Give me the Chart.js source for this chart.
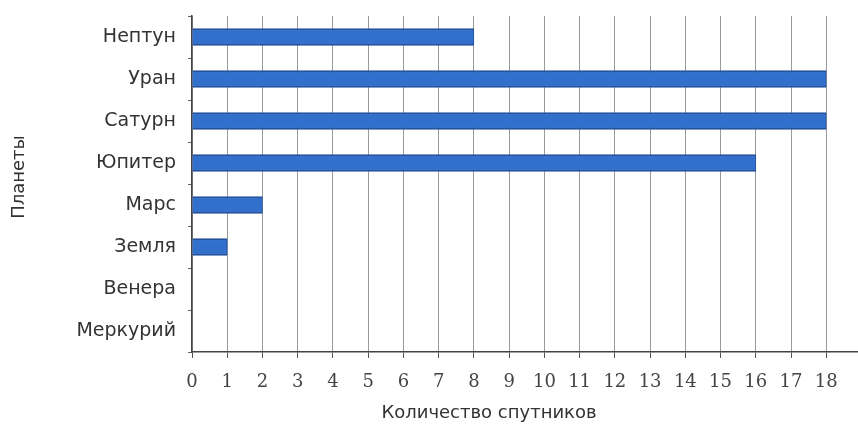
<!DOCTYPE html>
<html>
<head>
<meta charset="utf-8">
<script src="https://cdn.jsdelivr.net/npm/chart.js@4.4.1/dist/chart.umd.min.js"></script>
<style>
html,body{margin:0;padding:0;background:#fff;}
#wrap{width:858px;height:435px;position:relative;}
</style>
</head>
<body>
<div id="wrap"><canvas id="c" width="858" height="435"></canvas></div>
<script>
const planets = ["Нептун","Уран","Сатурн","Юпитер","Марс","Земля","Венера","Меркурий"];
const moons = [8,18,18,16,2,1,0,0];
const xTicks = [0,1,2,3,4,5,6,7,8,9,10,11,12,13,14,15,16,17,18];
const xTitle = "Количество спутников";
const yTitle = "Планеты";

const titlePlugin = {
  id: 'titles',
  afterDraw(chart) {
    const ctx = chart.ctx;
    ctx.save();
    ctx.fillStyle = '#333';
    ctx.font = '18px "DejaVu Sans"';
    ctx.textAlign = 'center';
    ctx.textBaseline = 'middle';
    ctx.fillText(xTitle, 489, 413);
    ctx.translate(19, 177);
    ctx.rotate(-Math.PI / 2);
    ctx.fillText(yTitle, 0, 0);
    ctx.restore();
  }
};

new Chart(document.getElementById('c'), {
  type: 'bar',
  data: {
    labels: planets,
    datasets: [{
      data: moons,
      backgroundColor: '#3170cc',
      borderColor: '#24539e',
      borderWidth: {top:2,bottom:2,left:0,right:1},
      borderSkipped: false,
      barThickness: 17
    }]
  },
  plugins: [titlePlugin],
  options: {
    indexAxis: 'y',
    responsive: false,
    animation: false,
    layout: {padding: {top: 16, right: 0, left: 0, bottom: 0}},
    plugins: {legend: {display: false}, tooltip: {enabled: false}},
    scales: {
      x: {
        min: 0,
        max: 18.9,
        afterBuildTicks: (s) => { s.ticks = xTicks.map(v => ({value: v})); },
        afterFit: (s) => { s.height = 83; s.paddingLeft = 0; s.paddingRight = 0; },
        grid: {color: '#9a9a9a', lineWidth: 1, tickLength: 6, drawTicks: true, tickColor: '#555'},
        border: {display: true, color: '#444', width: 1.5},
        ticks: {color: '#444', font: {family: 'DejaVu Serif', size: 18}, padding: 14, maxRotation: 0, autoSkip: false},
        title: {display: false}
      },
      y: {
        afterFit: (s) => { s.width = 192; s.paddingTop = 0; s.paddingBottom = 0; },
        grid: {display: true, drawOnChartArea: false, offset: true, tickLength: 4, tickColor: '#666'},
        border: {display: true, color: '#444', width: 1.5},
        ticks: {color: '#333', font: {family: 'DejaVu Sans', size: 19}, padding: 12},
        title: {display: false}
      }
    }
  }
});
</script>
</body>
</html>
